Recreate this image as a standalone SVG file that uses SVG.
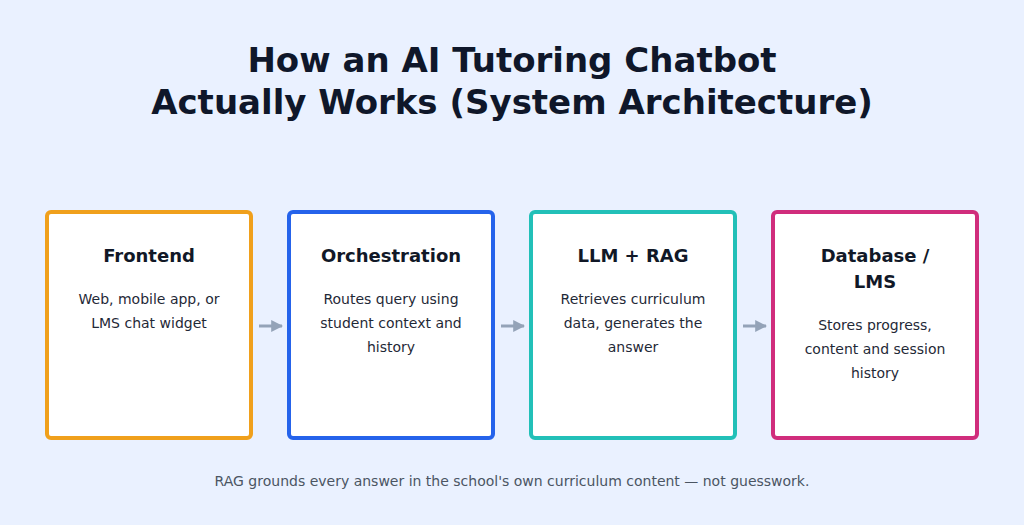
<svg xmlns="http://www.w3.org/2000/svg" width="1024" height="525" viewBox="0 0 1024 525">
<style>
.t{font-family:"DejaVu Sans",sans-serif;fill:#0f172a;font-weight:bold;text-anchor:middle}
.h{font-family:"DejaVu Sans",sans-serif;fill:#111827;font-weight:bold;font-size:18px;text-anchor:middle}
.b{font-family:"DejaVu Sans",sans-serif;fill:#1f2937;font-size:14px;text-anchor:middle}
.box{fill:#fff;stroke-width:4}
.c{stroke:#94a3b8;stroke-width:3}
</style>
<defs><marker id="a" viewBox="0 0 10 10" refX="9" refY="5" markerWidth="4" markerHeight="4" orient="auto"><path d="M0,0L10,5L0,10z" fill="#94a3b8"/></marker></defs>
<rect width="1024" height="525" fill="#eaf1ff"/>
<text class="t" font-size="34" x="512" y="72">How an AI Tutoring Chatbot</text>
<text class="t" font-size="34" x="512" y="114">Actually Works (System Architecture)</text>
<g id="frontend"><rect class="box" x="47" y="212" width="204" height="226" rx="4" stroke="#f0a01c"/>
<text class="h" x="149" y="262">Frontend</text>
<text class="b" x="149" y="304">Web, mobile app, or</text><text class="b" x="149" y="328">LMS chat widget</text></g>
<g id="orchestration"><rect class="box" x="289" y="212" width="204" height="226" rx="4" stroke="#2563eb"/>
<text class="h" x="391" y="262">Orchestration</text>
<text class="b" x="391" y="304">Routes query using</text><text class="b" x="391" y="328">student context and</text><text class="b" x="391" y="352">history</text></g>
<g id="llm"><rect class="box" x="531" y="212" width="204" height="226" rx="4" stroke="#22c0b8"/>
<text class="h" x="633" y="262">LLM + RAG</text>
<text class="b" x="633" y="304">Retrieves curriculum</text><text class="b" x="633" y="328">data, generates the</text><text class="b" x="633" y="352">answer</text></g>
<g id="database"><rect class="box" x="773" y="212" width="204" height="226" rx="4" stroke="#d02d7c"/>
<text class="h" x="875" y="262">Database /</text><text class="h" x="875" y="288">LMS</text>
<text class="b" x="875" y="330">Stores progress,</text><text class="b" x="875" y="354">content and session</text><text class="b" x="875" y="378">history</text></g>
<g id="connectors">
<line class="c" x1="259" y1="326" x2="282" y2="326" marker-end="url(#a)"/>
<line class="c" x1="501" y1="326" x2="524" y2="326" marker-end="url(#a)"/>
<line class="c" x1="743" y1="326" x2="766" y2="326" marker-end="url(#a)"/>
</g>
<text x="512" y="486" font-family="DejaVu Sans,sans-serif" font-size="14" fill="#4b5563" text-anchor="middle">RAG grounds every answer in the school's own curriculum content — not guesswork.</text>
</svg>
